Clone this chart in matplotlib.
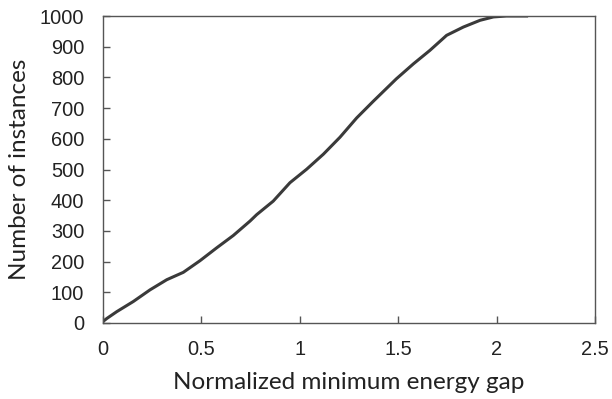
import matplotlib
matplotlib.use("Agg")
import matplotlib.pyplot as plt

gap = [0.0, 0.02, 0.07, 0.154, 0.239, 0.324, 0.408, 0.493, 0.578, 0.662, 0.747,
       0.781, 0.865, 0.950, 1.035, 1.12, 1.204, 1.289, 1.373, 1.458, 1.49,
       1.577, 1.661, 1.746, 1.831, 1.916, 1.984, 2.05, 2.16]
count = [5, 15, 37, 70, 108, 141, 165, 203, 245, 285, 332,
         353, 397, 457, 501, 550, 605, 668, 722, 775, 795,
         844, 888, 937, 964, 986, 997, 1000, 1000]

xticks = [0, 0.5, 1, 1.5, 2, 2.5]
xticklabels = ["0", "0.5", "1", "1.5", "2", "2.5"]
yticks = list(range(0, 1001, 100))

fig = plt.figure(figsize=(6.12, 3.99), dpi=100)
ax = fig.add_axes([103/612, (399-323)/399, (595-103)/612, (323-16)/399])
ax.plot(gap, count, color="#3a3a3a", lw=2.2, solid_joinstyle="round",
        solid_capstyle="butt")
ax.set_xlim(0, 2.5)
ax.set_ylim(0, 1000)
ax.set_xticks(xticks)
ax.set_xticklabels(xticklabels)
ax.set_yticks(yticks)
for s in ax.spines.values():
    s.set_color("#555555")
    s.set_linewidth(1.0)
ax.tick_params(direction="in", length=5, width=1, color="#555555",
               labelsize=14.4, labelcolor="#222222")
ax.tick_params(axis="y", pad=13.5)
ax.tick_params(axis="x", pad=12.5)
for lab in ax.get_xticklabels() + ax.get_yticklabels():
    lab.set_family("Liberation Sans")
ax.set_xlabel("Normalized minimum energy gap", fontsize=17.5, family="Lato",
              color="#222222", labelpad=9)
ax.set_ylabel("Number of instances", fontsize=17.5, family="Lato",
              color="#222222", labelpad=7)
fig.savefig("out.png", dpi=100)
